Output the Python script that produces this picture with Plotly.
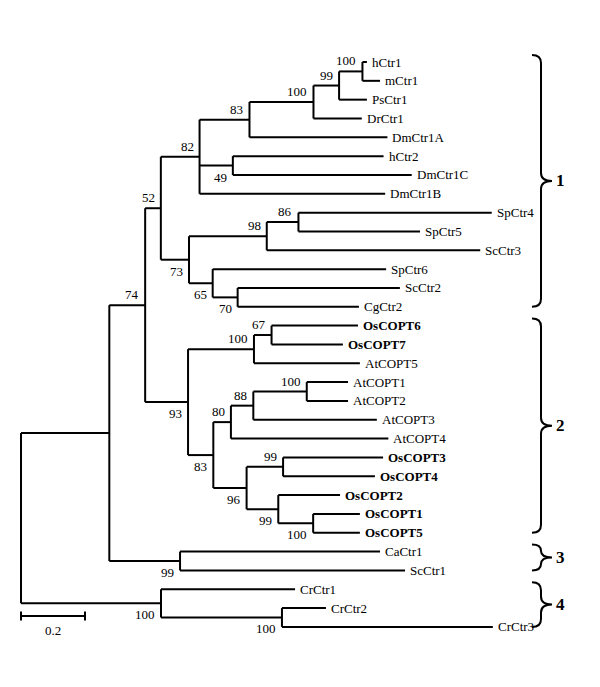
import plotly.graph_objects as go

# ---------------- data: tree topology (preorder), branch lengths, bootstrap ----------------
node_names = [
    "root", "n_a", "n74", "n52", "n82", "n83a", "n100a", "n99a", "n100b",
    "hCtr1", "mCtr1", "PsCtr1", "DrCtr1", "DmCtr1A", "n49", "hCtr2", "DmCtr1C", "DmCtr1B",
    "n73", "n98", "n86", "SpCtr4", "SpCtr5", "ScCtr3", "n65", "SpCtr6", "n70", "ScCtr2", "CgCtr2",
    "n93", "n100c", "n67", "OsCOPT6", "OsCOPT7", "AtCOPT5",
    "n83b", "n80", "n88", "n100d", "AtCOPT1", "AtCOPT2", "AtCOPT3", "AtCOPT4",
    "n96", "n99b", "OsCOPT3", "OsCOPT4", "n99c", "OsCOPT2", "n100e", "OsCOPT1", "OsCOPT5",
    "n99d", "CaCtr1", "ScCtr1",
    "n100f", "CrCtr1", "n100g", "CrCtr2", "CrCtr3",
]
node_parent = [
    None, "root", "n_a", "n74", "n52", "n82", "n83a", "n100a", "n99a",
    "n100b", "n100b", "n99a", "n100a", "n83a", "n82", "n49", "n49", "n82",
    "n52", "n73", "n98", "n86", "n86", "n98", "n73", "n65", "n65", "n70", "n70",
    "n74", "n93", "n100c", "n67", "n67", "n100c",
    "n93", "n83b", "n80", "n88", "n100d", "n100d", "n88", "n80",
    "n83b", "n96", "n99b", "n99b", "n96", "n99c", "n99c", "n100e", "n100e",
    "n_a", "n99d", "n99d",
    "root", "n100f", "n100f", "n100g", "n100g",
]
branch_length = [
    0.0, 0.276, 0.112, 0.049, 0.121, 0.156, 0.200, 0.080, 0.073,
    0.014, 0.055, 0.087, 0.151, 0.431, 0.104, 0.471, 0.559, 0.580,
    0.088, 0.243, 0.099, 0.604, 0.380, 0.667, 0.074, 0.542, 0.078, 0.507, 0.379,
    0.134, 0.206, 0.055, 0.270, 0.223, 0.331,
    0.079, 0.055, 0.070, 0.167, 0.129, 0.129, 0.386, 0.492,
    0.104, 0.114, 0.3125, 0.287, 0.099, 0.193, 0.109, 0.146, 0.146,
    0.221, 0.625, 0.703,
    0.4375, 0.419, 0.378, 0.1375, 0.659,
]
bootstrap = [
    None, None, 74, 52, 82, 83, 100, 99, 100,
    None, None, None, None, None, 49, None, None, None,
    73, 98, 86, None, None, None, 65, None, 70, None, None,
    93, 100, 67, None, None, None,
    83, 80, 88, 100, None, None, None, None,
    96, 99, None, None, 99, None, 100, None, None,
    99, None, None,
    100, None, 100, None, None,
]
bold_taxa = ["OsCOPT1", "OsCOPT2", "OsCOPT3", "OsCOPT4", "OsCOPT5", "OsCOPT6", "OsCOPT7"]

cluster_labels = ["1", "2", "3", "4"]
cluster_first = ["hCtr1", "OsCOPT6", "CaCtr1", "CrCtr1"]
cluster_last = ["CgCtr2", "OsCOPT5", "ScCtr1", "CrCtr3"]

scale_length = 0.2
scale_label = "0.2"

# ---------------- layout constants (page pixels) ----------------
PAGE_OFF = 8            # default body margin of the html page
W, H = 584, 671          # figure size that fits inside the 600x687 window
PX_PER_UNIT = 320.0
ROOT_PX = 21.0
LEAF_PX0 = 62.0
LEAF_STEP = 18.83
FONT = "Liberation Serif"


def px2x(px):
    return (px - ROOT_PX) / PX_PER_UNIT


def px2y(py):
    return (py - LEAF_PX0) / LEAF_STEP


# ---------------- tree geometry ----------------
children = {n: [] for n in node_names}
for n, p in zip(node_names, node_parent):
    if p is not None:
        children[p].append(n)

xpos, ypos = {}, {}
for n, p, bl in zip(node_names, node_parent, branch_length):
    xpos[n] = 0.0 if p is None else xpos[p] + bl

leaf_order = [n for n in node_names if not children[n]]
for i, n in enumerate(leaf_order):
    ypos[n] = float(i)
for n in reversed(node_names):
    if children[n]:
        ypos[n] = (ypos[children[n][0]] + ypos[children[n][-1]]) / 2.0

lx, ly = [], []
for n, p in zip(node_names, node_parent):
    if p is not None:
        lx += [xpos[p], xpos[n], None]
        ly += [ypos[n], ypos[n], None]
    if children[n]:
        lx += [xpos[n], xpos[n], None]
        ly += [ypos[children[n][0]], ypos[children[n][-1]], None]

fig = go.Figure()
fig.add_trace(go.Scatter(x=lx, y=ly, mode="lines",
                         line=dict(color="black", width=2),
                         hoverinfo="skip", showlegend=False))

annotations = []
# leaf labels
for n in leaf_order:
    txt = f"<b>{n}</b>" if n in bold_taxa else n
    annotations.append(dict(x=xpos[n], y=ypos[n], text=txt, showarrow=False,
                            xanchor="left", yanchor="middle", xshift=3,
                            font=dict(family=FONT, size=13, color="black")))
# bootstrap labels: above if node is the upper child, else below
for n, p, b in zip(node_names, node_parent, bootstrap):
    if b is None:
        continue
    first = p is not None and children[p][0] == n
    annotations.append(dict(x=xpos[n], y=ypos[n], text=str(b), showarrow=False,
                            xanchor="right", yanchor="bottom" if first else "top",
                            xshift=-4, yshift=1 if first else -2,
                            font=dict(family=FONT, size=13, color="black")))

# scale bar
sb_y = px2y(616)
tick = 4.5 / LEAF_STEP
fig.add_trace(go.Scatter(x=[0, scale_length, None, 0, 0, None, scale_length, scale_length],
                         y=[sb_y, sb_y, None, sb_y - tick, sb_y + tick, None, sb_y - tick, sb_y + tick],
                         mode="lines", line=dict(color="black", width=2),
                         hoverinfo="skip", showlegend=False))
annotations.append(dict(x=scale_length / 2, y=px2y(630), text=scale_label, showarrow=False,
                        xanchor="center", yanchor="middle",
                        font=dict(family=FONT, size=13, color="black")))

# cluster braces
shapes = []
x0p, xmp, x1p = 532.0, 541.0, 552.0
for lab, f, l in zip(cluster_labels, cluster_first, cluster_last):
    top = LEAF_PX0 + ypos[f] * LEAF_STEP - 7
    bot = LEAF_PX0 + ypos[l] * LEAF_STEP
    mid = (top + bot) / 2
    r = min(8.0, (bot - top) / 4)
    pts = lambda a, b: f"{px2x(a):.5f},{px2y(b):.5f}"
    path = (f"M {pts(x0p, top)} Q {pts(xmp, top)} {pts(xmp, top + r)} "
            f"L {pts(xmp, mid - r)} Q {pts(xmp, mid)} {pts(x1p, mid)} "
            f"Q {pts(xmp, mid)} {pts(xmp, mid + r)} "
            f"L {pts(xmp, bot - r)} Q {pts(xmp, bot)} {pts(x0p, bot)}")
    shapes.append(dict(type="path", path=path, xref="x", yref="y",
                       line=dict(color="black", width=2)))
    annotations.append(dict(x=px2x(554), y=px2y(mid), text=f"<b>{lab}</b>", showarrow=False,
                            xanchor="left", yanchor="middle",
                            font=dict(family=FONT, size=17, color="black")))

fig.update_layout(
    width=W, height=H,
    margin=dict(l=0, r=0, t=0, b=0),
    paper_bgcolor="white", plot_bgcolor="white",
    xaxis=dict(range=[px2x(PAGE_OFF), px2x(PAGE_OFF + W)], visible=False, fixedrange=True),
    yaxis=dict(range=[px2y(PAGE_OFF + H), px2y(PAGE_OFF)], visible=False, fixedrange=True),
    annotations=annotations, shapes=shapes,
    showlegend=False,
)

fig.write_html("out.html")
